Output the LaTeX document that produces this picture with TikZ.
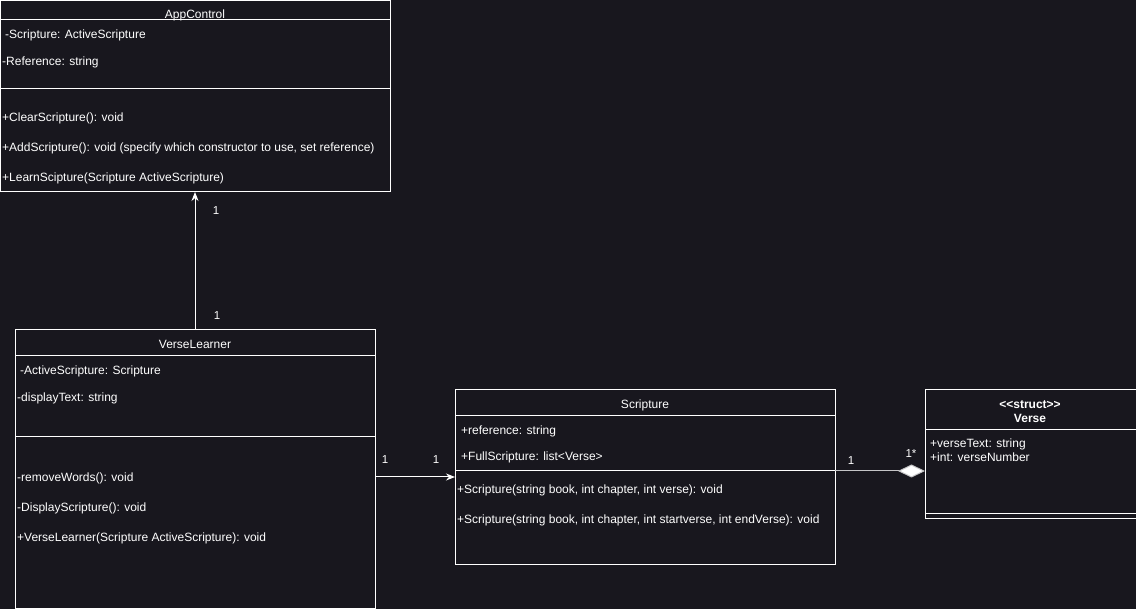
\documentclass[tikz,border=0pt]{standalone}
\usepackage{fontspec}
\setmainfont{Liberation Sans}
\usetikzlibrary{arrows.meta}
\definecolor{bg}{RGB}{24,23,30}
\begin{document}
\begin{tikzpicture}[x=1pt,y=-1pt,
  font=\fontsize{12}{14}\selectfont,
  every node/.style={text=white},
  classbox/.style={draw=white, line width=1pt, fill=bg, anchor=north west,
    inner sep=0pt, outer sep=0pt},
  sep/.style={draw=white, line width=1pt},
  member/.style={anchor=base west, inner sep=0pt},
  title/.style={anchor=base, inner sep=0pt},
  mult/.style={anchor=base, inner sep=0pt, font=\fontsize{11.5}{13}\selectfont},
  link/.style={draw=white, line width=1pt}]

% canvas
\fill[bg] (0,0) rectangle (1136,609);
\useasboundingbox (0,0) rectangle (1136,609);

% ---------- AppControl ----------
\node[classbox, minimum width=390pt, minimum height=191pt] (app) at (0,1) {};
\draw[sep] (0,20) -- (390,20);
\draw[sep] (0,89) -- (390,89);
\node[title] (appT) at (195,19) {AppControl};
\node[member] (app1) at (5,39) {-Scripture: ActiveScripture};
\node[member] (app2) at (2,66) {-Reference: string};
\node[member] (app3) at (2,122) {+ClearScripture(): void};
\node[member] (app4) at (2,152) {+AddScripture(): void (specify which constructor to use, set reference)};
\node[member] (app5) at (2,182) {+LearnScipture(Scripture ActiveScripture)};

% ---------- VerseLearner ----------
\node[classbox, minimum width=360pt, minimum height=278pt] (vl) at (15,330) {};
\draw[sep] (15,356) -- (375,356);
\draw[sep] (15,437) -- (375,437);
\node[title] (vlT) at (195,349) {VerseLearner};
\node[member] (vl1) at (20,375) {-ActiveScripture: Scripture};
\node[member] (vl2) at (17,402) {-displayText: string};
\node[member] (vl3) at (17,482) {-removeWords(): void};
\node[member] (vl4) at (17,512) {-DisplayScripture(): void};
\node[member] (vl5) at (17,542) {+VerseLearner(Scripture ActiveScripture): void};

% ---------- Scripture ----------
\node[classbox, minimum width=380pt, minimum height=174pt] (scr) at (455,390) {};
\draw[sep] (455,416) -- (835,416);
\draw[sep] (455,471) -- (835,471);
\node[title] (scrT) at (645,409) {Scripture};
\node[member] (scr1) at (461,435) {+reference: string};
\node[member] (scr2) at (461,461) {+FullScripture: list<Verse>};
\node[member] (scr3) at (457,494) {+Scripture(string book, int chapter, int verse): void};
\node[member] (scr4) at (457,524) {+Scripture(string book, int chapter, int startverse, int endVerse): void};

% ---------- Verse ----------
\node[classbox, minimum width=211pt, minimum height=129pt] (vrs) at (925,390) {};
\draw[sep] (925,430) -- (1136,430);
\draw[sep] (925,514) -- (1136,514);
\node[title, font=\fontsize{12}{14}\selectfont\bfseries] (vrsS) at (1030,409) {<{}<struct>{}>};
\node[title, font=\fontsize{12}{14}\selectfont\bfseries] (vrsT) at (1030,423) {Verse};
\node[member] (vrs1) at (930,448) {+verseText: string};
\node[member] (vrs2) at (930,462) {+int: verseNumber};

% ---------- connectors ----------
\draw[link, -{Stealth[length=9pt, width=7pt]}] (vl.north) -- (app.south);
\node[mult] (m1) at (216,215) {1};
\node[mult] (m2) at (217,320) {1};

\draw[link, -{Stealth[length=9pt, width=7pt]}] ([yshift=-147pt]vl.north east) -- (scr.west);
\node[mult] (m3) at (385,464) {1};
\node[mult] (m4) at (436,464) {1};

\draw[draw=white!75!bg, line width=1pt, -{Diamond[length=27pt, width=13pt, fill=white]}]
  ([yshift=-81pt]scr.north east) -- ([yshift=-81pt]vrs.north west);
\node[mult] (m5) at (851,465) {1};
\node[mult] (m6) at (911,458) {1*};
\end{tikzpicture}
\end{document}
